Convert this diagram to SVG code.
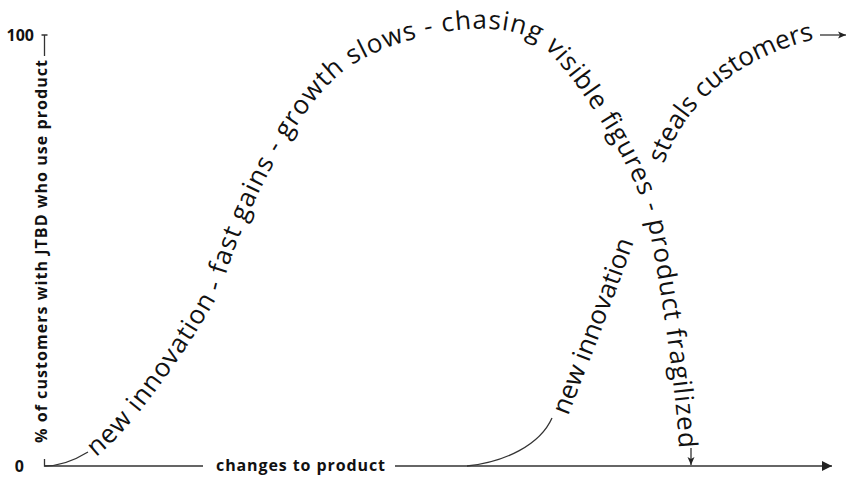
<svg xmlns="http://www.w3.org/2000/svg" xmlns:xlink="http://www.w3.org/1999/xlink" width="852" height="478" viewBox="0 0 852 478">
<style>
.ln{fill:none;stroke:#333;stroke-width:1.3}
.ax{font-family:"Open Sans","Liberation Sans",sans-serif;font-weight:bold;font-size:16px;fill:#111}
.cv{font-family:"Open Sans","Liberation Sans",sans-serif;font-size:26px;fill:#111}
</style>
<defs>
<marker id="ah" markerUnits="userSpaceOnUse" markerWidth="12" markerHeight="10" refX="10" refY="5" orient="auto">
<path d="M0,0 L10,5 L0,10 Z" fill="#222"/>
</marker>
<marker id="ahs" markerUnits="userSpaceOnUse" markerWidth="10" markerHeight="8" refX="8" refY="4" orient="auto">
<path d="M0,0.5 L8,4 L0,7.5 L2,4 Z" fill="#222"/>
</marker>
<path id="p1" d="M96,457 C140,422 200,330 222,288 C240,220 299,98 352,65 C400,35 505,10 545,48 C580,82 638,172 648,222 C660,282 675,380 679,447"/>
<path id="p2" d="M568,416 C580,385 610,310 638,230"/>
<path id="p3" d="M664,164 C680,115 725,62 812,40"/>
</defs>
<g id="axes">
<text class="ax" x="34" y="41" text-anchor="end">100</text>
<text class="ax" x="24" y="472" text-anchor="end">0</text>
<text class="ax" transform="translate(47,443) rotate(-90)" x="0" y="0" textLength="383" lengthAdjust="spacing">% of customers with JTBD who use product</text>
<text class="ax" x="216" y="471" textLength="169" lengthAdjust="spacing" font-size="17">changes to product</text>
</g>
<g id="connectors">
<path class="ln" d="M41.5,35 H47.5 M44.5,35 V56"/>
<path class="ln" d="M44.5,459 V466 H203"/>
<path class="ln" d="M395,466 H832" marker-end="url(#ah)"/>
<path class="ln" d="M44.5,466 C60,466 75,460 88,452"/>
<path class="ln" d="M467,466 C505,462 540,445 552,418"/>
<path class="ln" d="M691,448 V465" marker-end="url(#ahs)"/>
<path class="ln" d="M820,35 H846" marker-end="url(#ahs)"/>
</g>
<g id="curve-main">
<text class="cv"><textPath xlink:href="#p1" href="#p1" textLength="1110" lengthAdjust="spacing">new innovation - fast gains - growth slows - chasing visible figures - product fragilized</textPath></text>
</g>
<g id="curve-new">
<text class="cv"><textPath xlink:href="#p2" href="#p2">new innovation</textPath></text>
<text class="cv"><textPath xlink:href="#p3" href="#p3">steals customers</textPath></text>
</g>
</svg>
